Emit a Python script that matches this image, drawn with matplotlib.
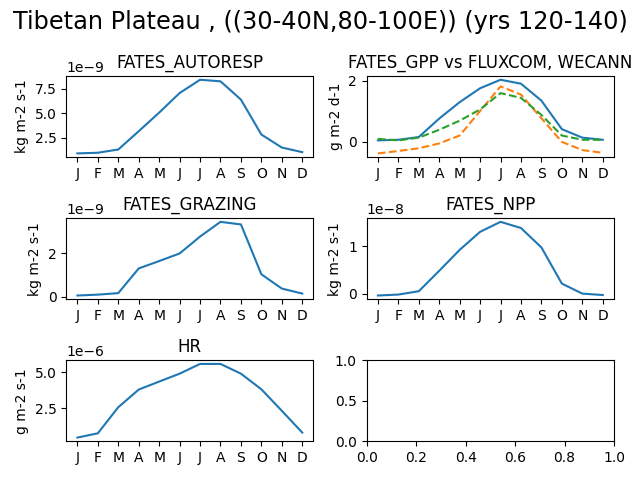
import numpy as np
from matplotlib import pyplot as plt

months = ['J', 'F', 'M', 'A', 'M', 'J', 'J', 'A', 'S', 'O', 'N', 'D']

autoresp = [0.90, 0.97, 1.3, 3.17, 5.07, 7.07, 8.43, 8.27, 6.4, 2.83, 1.5, 1.03]  # x1e-9
gpp_fates = [0.04, 0.06, 0.15, 0.76, 1.30, 1.76, 2.04, 1.91, 1.35, 0.41, 0.13, 0.06]
gpp_fluxcom = [-0.39, -0.31, -0.22, -0.06, 0.20, 1.01, 1.82, 1.55, 0.77, -0.01, -0.28, -0.37]
gpp_wecann = [0.09, 0.04, 0.13, 0.39, 0.69, 1.06, 1.60, 1.44, 0.88, 0.20, 0.06, 0.06]
grazing = [0.06, 0.10, 0.17, 1.31, 1.65, 2.0, 2.78, 3.46, 3.34, 1.04, 0.38, 0.15]  # x1e-9
npp = [-0.04, -0.02, 0.05, 0.48, 0.92, 1.30, 1.51, 1.38, 0.97, 0.21, 0.0, -0.03]  # x1e-8
hr = [0.45, 0.75, 2.57, 3.80, 4.36, 4.91, 5.59, 5.59, 4.91, 3.82, 2.32, 0.80]  # x1e-6

x = np.arange(12)

fig, axs = plt.subplots(3, 2, figsize=(6.4, 4.8), dpi=100)
fig.suptitle('Tibetan Plateau , ((30-40N,80-100E)) (yrs 120-140)', fontsize='xx-large')

ax = axs[0, 0]
ax.plot(x, np.array(autoresp) * 1e-9)
ax.set_title('FATES_AUTORESP')
ax.set_ylabel('kg m-2 s-1')

ax = axs[0, 1]
ax.plot(x, gpp_fates)
ax.plot(x, gpp_fluxcom, linestyle='--')
ax.plot(x, gpp_wecann, linestyle='--')
ax.set_title('FATES_GPP vs FLUXCOM, WECANN')
ax.set_ylabel('g m-2 d-1')

ax = axs[1, 0]
ax.plot(x, np.array(grazing) * 1e-9)
ax.set_title('FATES_GRAZING')
ax.set_ylabel('kg m-2 s-1')

ax = axs[1, 1]
ax.plot(x, np.array(npp) * 1e-8)
ax.set_title('FATES_NPP')
ax.set_ylabel('kg m-2 s-1')

ax = axs[2, 0]
ax.plot(x, np.array(hr) * 1e-6)
ax.set_title('HR')
ax.set_ylabel('g m-2 s-1')

for ax in [axs[0, 0], axs[0, 1], axs[1, 0], axs[1, 1], axs[2, 0]]:
    ax.set_xticks(x)
    ax.set_xticklabels(months)

plt.tight_layout()
plt.savefig('out.png')
